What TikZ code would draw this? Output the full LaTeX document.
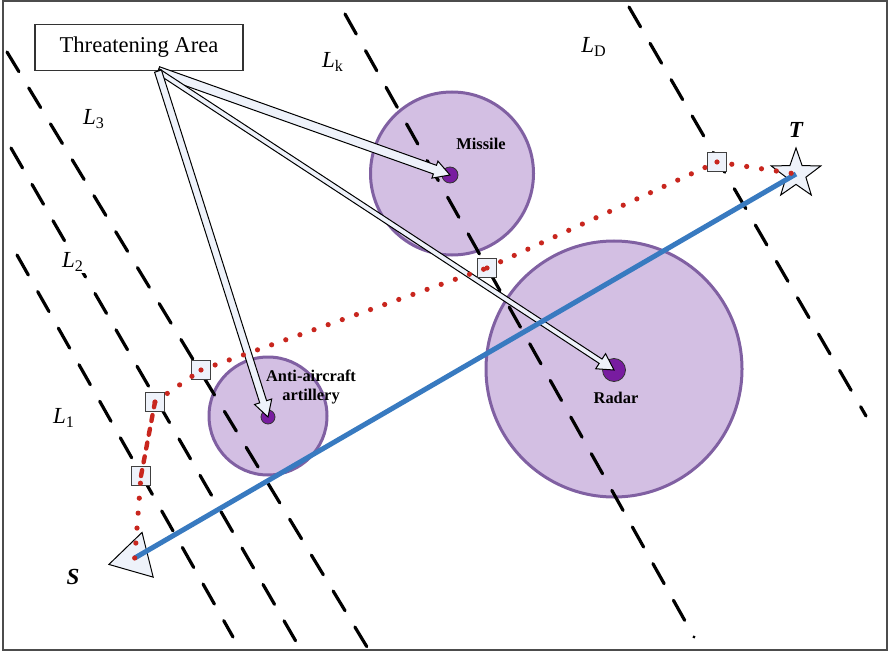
\documentclass[tikz,border=0pt]{standalone}
\usepackage{fontspec}
\setmainfont{Liberation Serif}
\usepackage{tikz}
\usetikzlibrary{arrows.meta,positioning,calc,shapes.geometric}

\definecolor{zonefill}{RGB}{211,191,227}
\definecolor{zoneedge}{RGB}{128,96,162}
\definecolor{sitefill}{RGB}{120,28,160}
\definecolor{routered}{RGB}{200,38,30}
\definecolor{lineblue}{RGB}{56,122,192}
\definecolor{palefill}{RGB}{238,242,250}

\newcommand{\threat}[3]{%
  \coordinate (#2-neck) at ($(#2.center)!8pt!(#1)$);
  \filldraw[threatbody]
    ($(#1)!#3!90:(#2.center)$) -- ($(#2-neck)!#3!90:(#2.center)$)
    -- ($(#2-neck)!4.5pt!90:(#2.center)$) -- (#2.center)
    -- ($(#2-neck)!4.5pt!-90:(#2.center)$) -- ($(#2-neck)!#3!-90:(#2.center)$)
    -- ($(#1)!#3!-90:(#2.center)$) -- cycle;}

\begin{document}
\begin{tikzpicture}[x=0.5pt,y=-0.5pt,
    zone/.style={circle,draw=zoneedge,fill=zonefill,line width=1.5pt,inner sep=0pt},
    site/.style={circle,draw=black!80,fill=sitefill,line width=0.4pt,inner sep=0pt},
    tag/.style={font=\fontsize{8.2}{9.5}\selectfont\bfseries,align=center},
    front/.style={line width=1.6pt,line cap=round,dash pattern=on 11.5pt off 9.5pt},
    gate/.style={draw=black!75,fill=palefill,line width=0.6pt,minimum size=9.5pt,inner sep=0pt},
    route/.style={routered,line width=2.6pt,line cap=round,dash pattern=on 0pt off 7.5pt},
    routeheavy/.style={routered,line width=2.2pt,line cap=round,dash pattern=on 3pt off 4pt},
    threatbody/.style={draw=black,fill=palefill,line width=0.5pt},
    lname/.style={font=\fontsize{11.5}{12}\selectfont,fill=white,inner sep=1pt},
    ptname/.style={font=\fontsize{11.5}{12}\selectfont\bfseries\itshape}]
    \useasboundingbox (0,0) rectangle (888,652);
    \draw[black!70,line width=1pt] (3,1) rectangle (887,650);

    \node[zone,minimum size=128pt] (rzone) at (614,369) {};
    \node[zone,minimum size=81.5pt] (mzone) at (452,173.5) {};
    \node[zone,minimum size=59pt] (azone) at (268,416) {};

    \coordinate (l1-top) at (17,255);  \coordinate (l1-bot) at (233,637);
    \coordinate (l2-top) at (11,148);  \coordinate (l2-bot) at (298,645);
    \coordinate (l3-top) at (7,52);    \coordinate (l3-bot) at (367,647);
    \coordinate (lk-top) at (345,14);  \coordinate (lk-bot) at (694,637);
    \coordinate (ld-top) at (629,7);   \coordinate (ld-bot) at (866,416);
    \foreach \side in {l1,l2,l3,lk,ld}
        \draw[front] (\side-top) -- (\side-bot);

    \node[lname] (n1) at (64,418) {\textit{L}\textsubscript{1}};
    \node[lname] (n2) at (73,262) {\textit{L}\textsubscript{2}};
    \node[lname] (n3) at (94,119) {\textit{L}\textsubscript{3}};
    \node[lname] (nk) at (333,62) {\textit{L}\textsubscript{k}};
    \node[lname] (nd) at (594,47) {\textit{L}\textsubscript{D}};

    \node[draw=black!80,fill=white,line width=0.6pt,minimum width=104pt,minimum height=23pt,
          font=\fontsize{11.3}{13}\selectfont] (area) at (139,47.5) {Threatening Area};

    \node[site,minimum size=8pt] (mdot) at (450,175) {};
    \node[site,minimum size=11.5pt] (rdot) at (614,370) {};
    \node[site,minimum size=7pt] (adot) at (268,417) {};
    \node[tag] (mname) at (481,144) {Missile};
    \node[tag] (rname) at (616,398) {Radar};
    \node[tag] (aname) at (311,387) {Anti-aircraft\\artillery};

    \coordinate (src) at ([xshift=9.5pt]area.south);
    \threat{src}{mdot}{2.3pt}
    \threat{src}{rdot}{1.3pt}
    \threat{src}{adot}{1.8pt}

    \node[gate] (g1) at (141,476) {};
    \node[gate] (g2) at (155,402) {};
    \node[gate] (g3) at (201,370) {};
    \node[gate] (g4) at (487,268) {};
    \node[gate] (g5) at (717,162) {};

    \node[regular polygon,regular polygon sides=3,rotate=-16,draw,fill=palefill,
          minimum size=26.6pt,inner sep=0pt,line width=0.5pt] (S) at (134.7,558) {};
    \node[star,star points=5,star point ratio=2.5,draw,fill=palefill,
          minimum size=26pt,inner sep=0pt,line width=0.5pt] (T) at (796,174) {};
    \node[ptname] (sname) at (73,577) {S};
    \node[ptname] (tname) at (796,130) {T};

    \draw[lineblue,line width=2.5pt] (S.center) -- (T.center);

    \draw[route] (S.center) -- (g1.center);
    \draw[routeheavy] (g1.center) -- (g2.center);
    \foreach \a/\b in {g2/g3,g3/g4,g4/g5,g5/T}
        \draw[route] (\a.center) -- (\b.center);
\end{tikzpicture}
\end{document}
